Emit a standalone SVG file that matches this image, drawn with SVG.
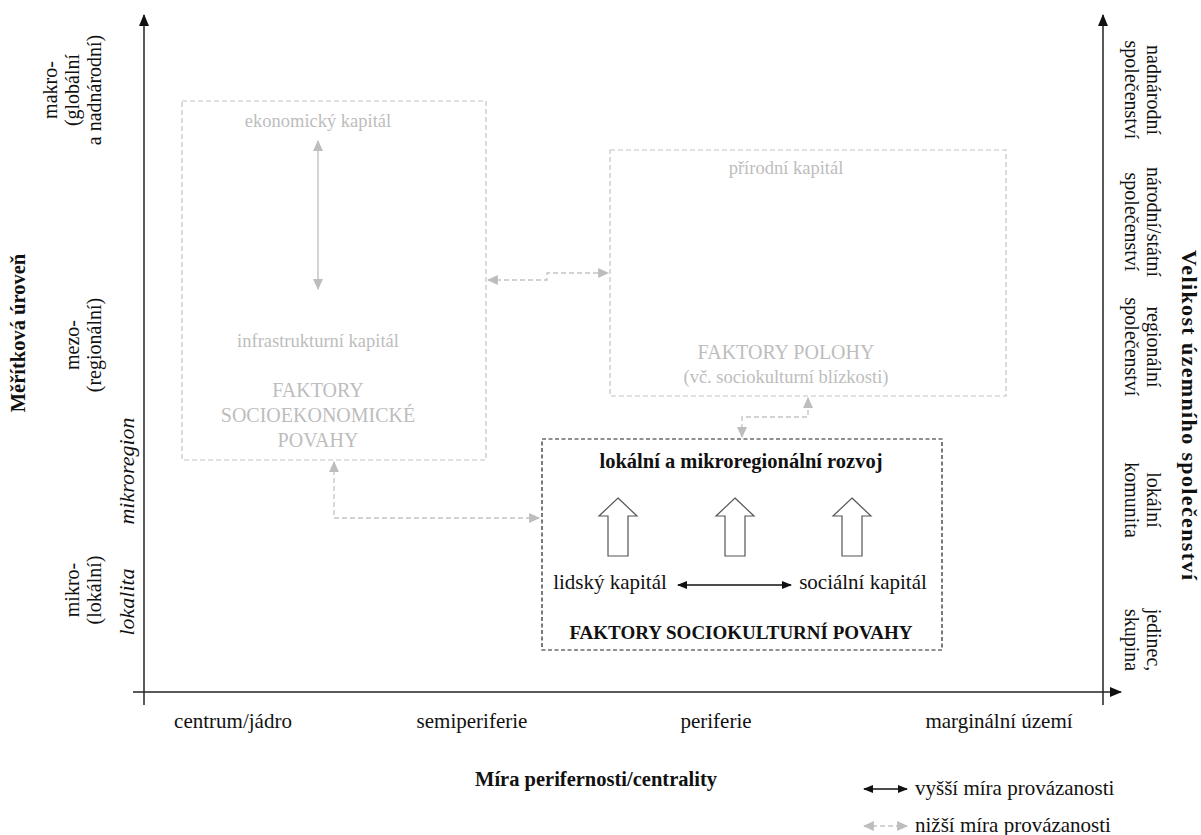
<svg xmlns="http://www.w3.org/2000/svg" width="1201" height="835" viewBox="0 0 1201 835">
<defs>
<style>
text{font-family:"Liberation Serif","DejaVu Serif",serif;font-size:21px;fill:#111}
.b{font-weight:bold;font-size:20.5px}
.i{font-style:italic;font-size:22px}
.r{font-size:20px}
.g{fill:#bdbdbd;font-size:18.5px}
.gc{fill:#bdbdbd;font-size:20px}
.c{text-anchor:middle}
.axis{stroke:#222;stroke-width:1.5;fill:none}
.gbox{fill:none;stroke:#c4c4c4;stroke-width:1.2;stroke-dasharray:5,3}
.kbox{fill:none;stroke:#222;stroke-width:1.2;stroke-dasharray:4,2.5}
.gline{fill:none;stroke:#c4c4c4;stroke-width:1.3;stroke-dasharray:5,3}
.gsolid{fill:none;stroke:#c4c4c4;stroke-width:1.5}
.kline{fill:none;stroke:#111;stroke-width:1.5}
.blk{fill:#fff;stroke:#555;stroke-width:1.2}
</style>
<marker id="ax" viewBox="0 0 12 12" refX="11" refY="6" markerWidth="12" markerHeight="12" markerUnits="userSpaceOnUse" orient="auto"><path d="M0,1 L12,6 L0,11 Z" fill="#111"/></marker>
<marker id="ga" viewBox="0 0 10 10" refX="9" refY="5" markerWidth="11" markerHeight="11" markerUnits="userSpaceOnUse" orient="auto-start-reverse"><path d="M0,0.5 L10,5 L0,9.5 Z" fill="#bdbdbd"/></marker>
<marker id="ka" viewBox="0 0 10 10" refX="9" refY="5" markerWidth="10" markerHeight="10" markerUnits="userSpaceOnUse" orient="auto-start-reverse"><path d="M0,1 L10,5 L0,9 Z" fill="#111"/></marker>
</defs>

<g id="axes">
<line class="axis" x1="144" y1="705" x2="144" y2="15" marker-end="url(#ax)"/>
<line class="axis" x1="133" y1="692" x2="1121" y2="692" marker-end="url(#ax)"/>
<line class="axis" x1="1103" y1="705" x2="1103" y2="15" marker-end="url(#ax)"/>
</g>

<g id="left-labels">
<text class="b c" transform="translate(25,333) rotate(-90)">Měřítková úroveň</text>
<text class="r c" transform="translate(57,90) rotate(-90)">makro-</text>
<text class="r c" transform="translate(79,90) rotate(-90)">(globální</text>
<text class="r c" transform="translate(101,90) rotate(-90)">a nadnárodní)</text>
<text class="r c" transform="translate(79,345) rotate(-90)">mezo-</text>
<text class="r c" transform="translate(101,345) rotate(-90)">(regionální)</text>
<text class="r c" transform="translate(79,590) rotate(-90)">mikro-</text>
<text class="r c" transform="translate(101,590) rotate(-90)">(lokální)</text>
<text class="i c" transform="translate(134,471) rotate(-90)">mikroregion</text>
<text class="i c" transform="translate(134,602) rotate(-90)">lokalita</text>
</g>

<g id="right-labels">
<text class="b c" transform="translate(1182,415) rotate(90)" style="font-size:22px" textLength="330" lengthAdjust="spacing">Velikost územního společenství</text>
<text class="r c" transform="translate(1147,90) rotate(90)">nadnárodní</text>
<text class="r c" transform="translate(1125,90) rotate(90)">společenství</text>
<text class="r c" transform="translate(1147,222) rotate(90)">národní/státní</text>
<text class="r c" transform="translate(1125,222) rotate(90)">společenství</text>
<text class="r c" transform="translate(1147,347) rotate(90)">regionální</text>
<text class="r c" transform="translate(1125,347) rotate(90)">společenství</text>
<text class="r c" transform="translate(1147,500) rotate(90)">lokální</text>
<text class="r c" transform="translate(1125,500) rotate(90)">komunita</text>
<text class="r c" transform="translate(1147,640) rotate(90)">jedinec,</text>
<text class="r c" transform="translate(1125,640) rotate(90)">skupina</text>
</g>

<g id="bottom-labels">
<text class="c" x="233" y="728">centrum/jádro</text>
<text class="c" x="472" y="728">semiperiferie</text>
<text class="c" x="716" y="728">periferie</text>
<text class="c" x="999" y="728">marginální území</text>
<text class="b c" x="596" y="786">Míra perifernosti/centrality</text>
</g>

<g id="socioeconomic">
<rect class="gbox" x="182" y="101" width="304" height="359"/>
<text class="g c" x="318" y="127">ekonomický kapitál</text>
<line class="gsolid" x1="318" y1="141" x2="318" y2="289" marker-start="url(#ga)" marker-end="url(#ga)"/>
<text class="g c" x="318" y="347">infrastrukturní kapitál</text>
<text class="gc c" x="318" y="397">FAKTORY</text>
<text class="gc c" x="318" y="422">SOCIOEKONOMICKÉ</text>
<text class="gc c" x="318" y="447">POVAHY</text>
</g>

<g id="location">
<rect class="gbox" x="610" y="150" width="396" height="246"/>
<text class="g c" x="786" y="174">přírodní kapitál</text>
<text class="gc c" x="786" y="359">FAKTORY POLOHY</text>
<text class="g c" x="786" y="383">(vč. sociokulturní blízkosti)</text>
</g>

<g id="sociocultural">
<rect class="kbox" x="542" y="439" width="400" height="211"/>
<text class="b c" x="741" y="468">lokální a mikroregionální rozvoj</text>
<path class="blk" d="M618,498 L637,516 L628,516 L628,556 L608,556 L608,516 L599,516 Z"/>
<path class="blk" d="M735,498 L754,516 L745,516 L745,556 L725,556 L725,516 L716,516 Z"/>
<path class="blk" d="M852,498 L871,516 L862,516 L862,556 L842,556 L842,516 L833,516 Z"/>
<text class="c" x="610" y="589">lidský kapitál</text>
<text class="c" x="863" y="589">sociální kapitál</text>
<line class="kline" x1="678" y1="585" x2="791" y2="585" marker-start="url(#ka)" marker-end="url(#ka)"/>
<text class="b c" x="741" y="639" style="font-size:19px">FAKTORY SOCIOKULTURNÍ POVAHY</text>
</g>

<g id="connectors">
<path class="gline" d="M488,280 L547,280 L547,273 L608,273" marker-start="url(#ga)" marker-end="url(#ga)"/>
<path class="gline" d="M742,437 L742,417 L808,417 L808,398" marker-start="url(#ga)" marker-end="url(#ga)"/>
<path class="gline" d="M334,462 L334,518 L539,518" marker-start="url(#ga)" marker-end="url(#ga)"/>
</g>

<g id="legend">
<line class="kline" x1="864" y1="789" x2="907" y2="789" marker-start="url(#ka)" marker-end="url(#ka)"/>
<text x="915" y="795">vyšší míra provázanosti</text>
<line class="gline" x1="864" y1="826" x2="907" y2="826" marker-start="url(#ga)" marker-end="url(#ga)"/>
<text x="915" y="832">nižší míra provázanosti</text>
</g>
</svg>
